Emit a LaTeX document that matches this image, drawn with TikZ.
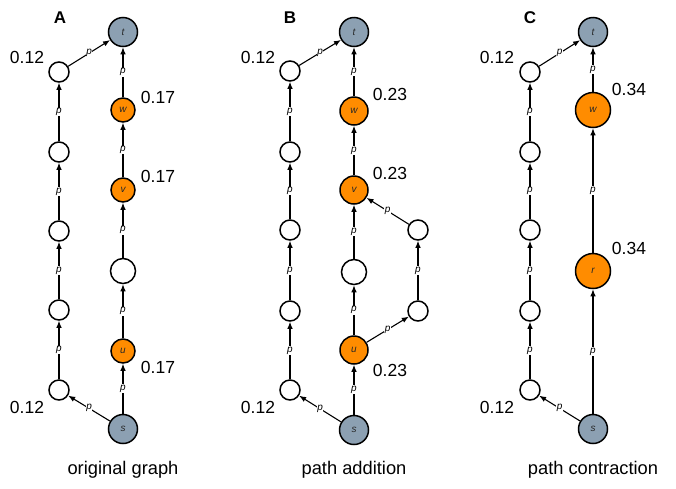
\documentclass[tikz,border=0pt]{standalone}
\usepackage{fontspec}
\setmainfont{Liberation Sans}
\usetikzlibrary{arrows.meta}
\definecolor{gnode}{RGB}{140,160,178}
\definecolor{onode}{RGB}{255,140,0}
\definecolor{lbl}{RGB}{40,40,40}
\tikzset{
  vtx/.style={circle,draw,line width=1.5pt,inner sep=0pt,minimum size=20pt,fill=white,text=lbl,font=\fontsize{10}{10}\itshape\selectfont},
  term/.style={vtx,fill=gnode,minimum size=29pt},
  hot/.style={vtx,fill=onode},
  edge/.style={line width=1.1pt,-{Latex[length=7pt,width=5.5pt]}},
  pl/.style={font=\fontsize{10}{10}\itshape\selectfont,fill=white,inner sep=0.6pt},
  val/.style={font=\fontsize{17.5}{17.5}\selectfont,inner sep=0pt},
  ttl/.style={font=\fontsize{17}{17}\bfseries\selectfont,inner sep=0pt},
  captxt/.style={font=\fontsize{18.3}{18.3}\selectfont,inner sep=0pt,anchor=base}
}
\begin{document}
\begin{tikzpicture}[x=1pt,y=-1pt]
\useasboundingbox (0,0) rectangle (676,488);
% ---------- Panel A ----------
\node[ttl] (Alab) at (60,18) {A};
\node[term] (At) at (123,32) {t};
\node[hot,minimum size=24pt] (Aw) at (123,110) {w};
\node[hot,minimum size=24pt] (Av) at (123,190) {v};
\node[vtx,minimum size=25pt] (Am) at (123,271) {};
\node[hot,minimum size=24pt] (Au) at (123,351) {u};
\node[term] (As) at (123,429) {s};
\node[vtx] (A1) at (59,390) {};
\node[vtx] (A2) at (59,310) {};
\node[vtx] (A3) at (59,231) {};
\node[vtx] (A4) at (59,152) {};
\node[vtx] (A5) at (59,72) {};
\draw[edge] (As) -- node[pl]{p} (A1);
\draw[edge] (A1) -- node[pl]{p} (A2);
\draw[edge] (A2) -- node[pl]{p} (A3);
\draw[edge] (A3) -- node[pl]{p} (A4);
\draw[edge] (A4) -- node[pl]{p} (A5);
\draw[edge] (A5) -- node[pl]{p} (At);
\draw[edge] (As) -- node[pl]{p} (Au);
\draw[edge] (Au) -- node[pl]{p} (Am);
\draw[edge] (Am) -- node[pl]{p} (Av);
\draw[edge] (Av) -- node[pl]{p} (Aw);
\draw[edge] (Aw) -- node[pl]{p} (At);
\node[val] (Aa) at (27,57) {0.12};
\node[val] (Ab) at (27,407) {0.12};
\node[val] (Ac) at (158,97) {0.17};
\node[val] (Ad) at (158,176) {0.17};
\node[val] (Ae) at (158,367) {0.17};
\node[captxt] (Acap) at (123,474) {original graph};
% ---------- Panel B ----------
\node[ttl] (Blab) at (290,18) {B};
\node[term] (Bt) at (354,32) {t};
\node[hot,minimum size=28pt] (Bw) at (354,111) {w};
\node[hot,minimum size=28pt] (Bv) at (354,190) {v};
\node[vtx,minimum size=25pt] (Bm) at (354,272) {};
\node[hot,minimum size=28pt] (Bu) at (354,350) {u};
\node[term] (Bs) at (354,430) {s};
\node[vtx] (B1) at (290,390) {};
\node[vtx] (B2) at (290,311) {};
\node[vtx] (B3) at (290,230) {};
\node[vtx] (B4) at (290,152) {};
\node[vtx] (B5) at (290,71) {};
\node[vtx] (Bx1) at (418,311) {};
\node[vtx] (Bx2) at (418,230) {};
\draw[edge] (Bs) -- node[pl]{p} (B1);
\draw[edge] (B1) -- node[pl]{p} (B2);
\draw[edge] (B2) -- node[pl]{p} (B3);
\draw[edge] (B3) -- node[pl]{p} (B4);
\draw[edge] (B4) -- node[pl]{p} (B5);
\draw[edge] (B5) -- node[pl]{p} (Bt);
\draw[edge] (Bs) -- node[pl]{p} (Bu);
\draw[edge] (Bu) -- node[pl]{p} (Bm);
\draw[edge] (Bm) -- node[pl]{p} (Bv);
\draw[edge] (Bv) -- node[pl]{p} (Bw);
\draw[edge] (Bw) -- node[pl]{p} (Bt);
\draw[edge] (Bu) -- node[pl]{p} (Bx1);
\draw[edge] (Bx1) -- node[pl]{p} (Bx2);
\draw[edge] (Bx2) -- node[pl]{p} (Bv);
\node[val] (Ba) at (258,57) {0.12};
\node[val] (Bb) at (258,407) {0.12};
\node[val] (Bc) at (390,94) {0.23};
\node[val] (Bd) at (390,173) {0.23};
\node[val] (Be) at (390,370) {0.23};
\node[captxt] (Bcap) at (354,474) {path addition};
% ---------- Panel C ----------
\node[ttl] (Clab) at (530,18) {C};
\node[term] (Ct) at (593,32) {t};
\node[hot,minimum size=35pt] (Cw) at (593,110) {w};
\node[hot,minimum size=35pt] (Cr) at (593,271) {r};
\node[term] (Cs) at (593,429) {s};
\node[vtx] (C1) at (530,390) {};
\node[vtx] (C2) at (530,311) {};
\node[vtx] (C3) at (530,230) {};
\node[vtx] (C4) at (530,152) {};
\node[vtx] (C5) at (530,72) {};
\draw[edge] (Cs) -- node[pl]{p} (C1);
\draw[edge] (C1) -- node[pl]{p} (C2);
\draw[edge] (C2) -- node[pl]{p} (C3);
\draw[edge] (C3) -- node[pl]{p} (C4);
\draw[edge] (C4) -- node[pl]{p} (C5);
\draw[edge] (C5) -- node[pl]{p} (Ct);
\draw[edge] (Cs) -- node[pl]{p} (Cr);
\draw[edge] (Cr) -- node[pl]{p} (Cw);
\draw[edge] (Cw) -- node[pl]{p} (Ct);
\node[val] (Ca) at (497,57) {0.12};
\node[val] (Cb) at (497,407) {0.12};
\node[val] (Cc) at (629,89) {0.34};
\node[val] (Cd) at (629,248) {0.34};
\node[captxt] (Ccap) at (593,474) {path contraction};
\end{tikzpicture}
\end{document}
